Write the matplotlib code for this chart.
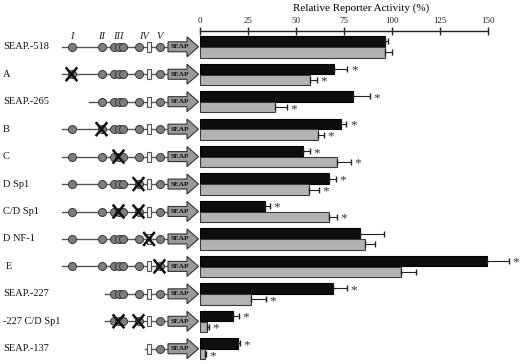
import matplotlib
matplotlib.use("Agg")
import matplotlib.pyplot as plt
from matplotlib.patches import Rectangle, Polygon
import numpy as np

# ---------------- data ----------------
constructs = ["SEAP.-518", "A", "SEAP.-265", "B", "C", "D Sp1", "C/D Sp1",
              "D NF-1", "E", "SEAP.-227", "-227 C/D Sp1", "SEAP.-137"]
black_vals = [96.2, 69.8, 79.7, 73.3, 53.8, 67.4, 33.7, 83.3, 149.7, 69.1, 17.0, 20.0]
black_err  = [1.8, 7.0, 9.0, 3.0, 3.5, 3.5, 2.6, 12.7, 11.0, 7.3, 3.4, 1.0]
black_sig  = [False, True, True, True, True, True, True, False, True, True, True, True]
gray_vals  = [96.2, 57.3, 39.0, 61.5, 71.2, 56.9, 67.2, 86.0, 104.9, 26.4, 3.7, 2.8]
gray_err   = [3.8, 3.5, 6.2, 3.1, 7.3, 5.1, 4.3, 5.0, 7.5, 7.9, 1.1, 0.4]
gray_sig   = [False, True, True, True, True, True, True, False, False, True, True, True]
xticks = [0, 25, 50, 75, 100, 125, 150]
xlabel = "Relative Reporter Activity (%)"

# schematic: elements present and knocked-out elements per construct
elements_full = ["I", "II", "III", "IV", "R", "V"]
present = [elements_full, elements_full, ["II", "III", "IV", "R", "V"], elements_full,
           elements_full, elements_full, elements_full, elements_full, elements_full,
           ["III", "IV", "R", "V"], ["III", "IV", "R", "V"], ["R", "V"]]
knocked = [[], ["I"], [], ["II"], ["III"], ["IV"], ["III", "IV"], ["R"], ["V"], [],
           ["III", "IV"], []]
numerals = ["I", "II", "III", "IV", "V"]

# ---------------- layout ----------------
W, H, DPI = 520, 364, 100
fig = plt.figure(figsize=(W / DPI, H / DPI), dpi=DPI)
serif = ["Liberation Serif", "DejaVu Serif"]

row0_px, pitch_px = 46.8, 27.45
top_px = 31
ylim_top = (top_px - row0_px) / pitch_px
ylim_bot = (H - row0_px) / pitch_px

ax_left_px, ax_right_px = 200, 488
ax = fig.add_axes([ax_left_px / W, 0, (ax_right_px - ax_left_px) / W, 1 - top_px / H])
ax.set_xlim(0, 150)
ax.set_ylim(ylim_bot, ylim_top)

n = len(constructs)
y = np.arange(n)
bh = 0.38
yb = y - 0.195
yg = y + 0.2
ax.barh(yb, black_vals, height=bh, color="#0d0d0d", edgecolor="#000000", linewidth=0.8, zorder=2)
ax.barh(yg, gray_vals, height=bh, color="#b3b3b3", edgecolor="#3a3a3a", linewidth=0.8, zorder=2)
zeros = np.zeros(n)
ax.errorbar(black_vals, yb, xerr=[zeros, black_err], fmt="none", ecolor="#222222",
            elinewidth=0.8, capsize=2.2, capthick=1.0, clip_on=False, zorder=3)
ax.errorbar(gray_vals, yg, xerr=[zeros, gray_err], fmt="none", ecolor="#222222",
            elinewidth=0.8, capsize=2.2, capthick=1.0, clip_on=False, zorder=3)
for vals, errs, sig, yy in [(black_vals, black_err, black_sig, yb), (gray_vals, gray_err, gray_sig, yg)]:
    for v, e, s, yi in zip(vals, errs, sig, yy):
        if s:
            ax.annotate("*", xy=(v + e, yi), xytext=(2.5, -1.2), textcoords="offset points",
                        ha="left", va="center", fontsize=9.5, family=serif, color="#333333",
                        annotation_clip=False)

for sp in ["left", "right", "bottom"]:
    ax.spines[sp].set_visible(False)
ax.spines["top"].set_linewidth(1.0)
ax.spines["top"].set_color("#222222")
ax.xaxis.tick_top()
ax.set_xticks(xticks)
ax.set_xticklabels([str(t) for t in xticks], fontsize=6.5, family=serif)
ax.tick_params(axis="x", direction="inout", length=6, width=1.0, pad=1, colors="#222222")
ax.set_yticks([])
fig.text(361.5 / W, 1 - 8 / H, xlabel, ha="center", va="center", fontsize=8, family=serif)

# ---------------- schematic ----------------
axs = fig.add_axes([0, 0, ax_left_px / W, 1 - top_px / H])
axs.set_xlim(0, ax_left_px)
axs.set_ylim(ylim_bot, ylim_top)
axs.axis("off")

px = 1.0 / pitch_px  # one pixel in y data units
pos = {"I": 71.5, "II": 101.5, "III": 118.5, "IV": 138.5, "R": 149, "V": 159.5}
start = {"I": 62, "II": 89, "III": 105, "R": 145}
ms = 5.8
line_col = "#555555"
circ_fc = "#7d7d7d"
circ_ec = "#3a3a3a"

for i, (name, pres, ko) in enumerate(zip(constructs, present, knocked)):
    lx = 6 if name == "E" else 3
    axs.text(lx, i, name, ha="left", va="center", fontsize=7.5, family=serif, color="#111111")
    x0 = start[pres[0]]
    axs.plot([x0, 168], [i, i], color=line_col, lw=1.0, zorder=1)
    for el in pres:
        cx = pos[el]
        if el == "R":
            axs.add_patch(Rectangle((cx - 2.3, i - 5 * px), 4.6, 10 * px, facecolor="#f2f2f2",
                                    edgecolor="#555555", lw=0.8, zorder=3))
        elif el == "III":
            for dx in (-4.5, 0, 4.5):
                axs.plot([cx + dx], [i], marker="o", ms=ms, mfc=circ_fc,
                         mec=circ_ec, mew=0.7, zorder=3)
        else:
            axs.plot([cx], [i], marker="o", ms=ms, mfc=circ_fc,
                     mec=circ_ec, mew=0.7, zorder=3)
    for el in ko:
        cx = pos[el]
        axs.plot([cx - 5, cx + 5], [i - 6 * px, i + 6 * px], color="#111111", lw=1.8, zorder=4)
        axs.plot([cx - 5, cx + 5], [i + 6 * px, i - 6 * px], color="#111111", lw=1.8, zorder=4)
    # SEAP arrow
    arrow = Polygon([(168, i - 5 * px), (187, i - 5 * px), (187, i - 10 * px),
                     (198.5, i), (187, i + 10 * px), (187, i + 5 * px), (168, i + 5 * px)],
                    closed=True, facecolor="#9a9a9a", edgecolor="#333333", lw=0.8, zorder=3)
    axs.add_patch(arrow)
    axs.text(180, i, "SEAP", ha="center", va="center", fontsize=5.2, fontweight="bold",
             family=serif, color="#111111", zorder=5)

for nm in numerals:
    cx = pos[nm]
    if nm == "IV":
        cx = 144
    axs.text(cx, -10 * px, nm, ha="center", va="center", fontsize=7.5, style="italic",
             family=serif, color="#222222")

fig.savefig("out.png", dpi=DPI)
